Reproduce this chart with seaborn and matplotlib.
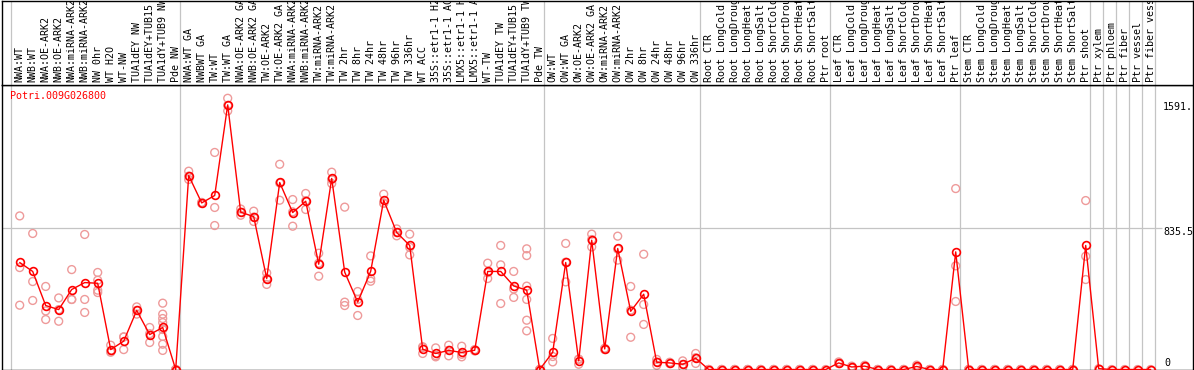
import numpy as np
import pandas as pd
import matplotlib
matplotlib.use("Agg")
import matplotlib.pyplot as plt
import seaborn as sns

# ---------------- data ----------------
categories = [
    "NWA:WT", "NWB:WT", "NWA:OE-ARK2", "NWB:OE-ARK2", "NWA:miRNA-ARK2", "NWB:miRNA-ARK2",
    "NW 0hr", "WT H2O", "WT-NW", "TUA1dEY NW", "TUA1dEY+TUB15 NW", "TUA1dY+TUB9 NW", "Pde NW",
    "NWA:WT GA", "NWBWT GA", "TW:WT", "TW:WT GA", "NWA:OE-ARK2 GA", "NWB:OE-ARK2 GA",
    "TW:OE-ARK2", "TW:OE-ARK2 GA", "NWA:miRNA-ARK2 GA", "NWB:miRNA-ARK2 GA", "TW:miRNA-ARK2",
    "TW:miRNA-ARK2 GA", "TW 2hr", "TW 8hr", "TW 24hr", "TW 48hr", "TW 96hr", "TW 336hr",
    "WT ACC", "35S::etr1-1 H2O", "35S::etr1-1 ACC", "LMX5::etr1-1 H2O", "LMX5::etr1-1 ACC",
    "WT-TW", "TUA1dEY TW", "TUA1dEY+TUB15 TW", "TUA1dY+TUB9 TW", "Pde TW",
    "OW:WT", "OW:WT GA", "OW:OE-ARK2", "OW:OE-ARK2 GA", "OW:miRNA-ARK2", "OW:miRNA-ARK2 GA",
    "OW 2hr", "OW 8hr", "OW 24hr", "OW 48hr", "OW 96hr", "OW 336hr",
    "Root CTR", "Root LongCold", "Root LongDrought", "Root LongHeat", "Root LongSalt",
    "Root ShortCold", "Root ShortDrought", "Root ShortHeat", "Root ShortSalt", "Ptr root",
    "Leaf CTR", "Leaf LongCold", "Leaf LongDrought", "Leaf LongHeat", "Leaf LongSalt",
    "Leaf ShortCold", "Leaf ShortDrought", "Leaf ShortHeat", "Leaf ShortSalt", "Ptr leaf",
    "Stem CTR", "Stem LongCold", "Stem LongDrought", "Stem LongHeat", "Stem LongSalt",
    "Stem ShortCold", "Stem ShortDrought", "Stem ShortHeat", "Stem ShortSalt", "Ptr shoot",
    "Ptr xylem", "Ptr phloem", "Ptr fiber", "Ptr vessel", "Ptr fiber vessel",
]

means = [
    634, 581, 379, 355, 474, 515, 511, 118, 168, 350, 207, 249, 0,
    1149, 987, 1031, 1568, 932, 906, 539, 1108, 930, 997, 624, 1132, 577, 399, 582,
    1003, 812, 735, 120, 95, 113, 101, 114, 581, 581, 495, 470, 0,
    102, 634, 51, 766, 122, 717, 345, 446, 43, 39, 31, 67,
    0, 0, 0, 0, 0, 0, 0, 0, 0, 0,
    39, 15, 20, 0, 0, 0, 18, 0, 0, 697,
    0, 0, 0, 0, 0, 0, 0, 0, 0, 735,
    5, 0, 0, 0, 0,
]

replicates = [
    [910, 604, 381], [806, 521, 409], [492, 347, 296], [424, 286, 355], [592, 415, 415],
    [800, 415, 338], [575, 529, 470, 456], [144, 102, 110], [193, 118, 193], [371, 328, 350],
    [249, 160, 212], [393, 328, 302, 278, 237, 196, 150, 113], [0, 0, 0],
    [1175, 1126, 1146], [987, 990, 984], [1286, 960, 853], [1607, 1532, 1565], [951, 914, 932],
    [938, 877, 903], [572, 504, 540], [1216, 1003, 1105], [1007, 849, 934], [1043, 948, 1000],
    [689, 553, 630], [1169, 1102, 1125], [962, 399, 379], [462, 320, 415], [673, 539, 523],
    [1039, 984, 986], [833, 792, 811], [802, 679, 724], [95, 130, 135], [128, 75, 82],
    [144, 81, 114], [138, 75, 90], [114, 110, 118], [630, 539, 574], [735, 620, 391],
    [581, 427, 477], [715, 675, 494, 415, 292, 229], [0, 0, 0],
    [184, 45, 77], [747, 519, 636], [31, 60, 62], [802, 726, 770], [122, 118, 126],
    [790, 648, 713], [492, 191, 352], [683, 385, 267], [25, 60, 44], [39, 35, 43],
    [51, 12, 30], [95, 36, 70],
    [0, 0, 0], [0, 0, 0], [0, 0, 0], [0, 0, 0], [0, 0, 0],
    [0, 0, 0], [0, 0, 0], [0, 0, 0], [0, 0, 0], [0],
    [45, 35, 37], [15, 10, 20], [20, 15, 25], [0, 0, 0], [0, 0, 0],
    [0, 0, 0], [18, 10, 26], [0, 0, 0], [0, 0, 0], [1072, 614, 403],
    [0, 0, 0], [0, 0, 0], [0, 0, 0], [0, 0, 0], [0, 0, 0],
    [0, 0, 0], [0, 0, 0], [0, 0, 0], [0, 0, 0], [1001, 671, 533],
    [5], [0], [0], [0], [0],
]

group_ends = [-1, 12, 40, 52, 62, 72, 82, 83, 84, 85, 86, 87]
gene = "Potri.009G026800"
y_labels = ["1591.", "835.5", "0"]
y_mid = 835.5

# ---------------- layout ----------------
W, H = 1194, 370
sns.set_theme(style="white")
plt.rcParams["font.family"] = ["DejaVu Sans Mono", "DejaVu Sans"]
FS = 7.2

fig = plt.figure(figsize=(W / 100, H / 100), dpi=100)
fig.patch.set_facecolor("white")

def fx(px):
    return px / W

def fy(py):
    return 1 - py / H

X0, X1 = 2, 1193
Y_TOP, Y_BOT = 85, 369.5
STEP, FIRST = 13.0, 19.7
UPP = 5.925  # value units per pixel

ax = fig.add_axes([fx(X0), fy(Y_BOT), (X1 - X0) / W, (Y_BOT - Y_TOP) / H])
hax = fig.add_axes([fx(X0), fy(Y_TOP), (X1 - X0) / W, (Y_TOP - 0.5) / H])

xlim = ((X0 - FIRST) / STEP, (X1 - FIRST) / STEP)
for a in (ax, hax):
    a.set_xlim(*xlim)
    a.set_xticks([])
    a.set_yticks([])
    a.set_facecolor("white")
    for sp in a.spines.values():
        sp.set_visible(True)
        sp.set_color("black")
        sp.set_linewidth(1.0)
ax.set_ylim(0, (Y_BOT - Y_TOP) * UPP)
hax.set_ylim(0, 1)

grid_col = "#c4c4c4"
for g in group_ends:
    ax.axvline(g + 0.33, color=grid_col, lw=0.9, zorder=1)
    hax.axvline(g + 0.33, color=grid_col, lw=0.9, zorder=1)
ax.hlines(y_mid, xlim[0], (1162 - FIRST) / STEP, color=grid_col, lw=0.9, zorder=1)

# replicate points
pos = np.arange(len(categories))
rep_df = pd.DataFrame(
    [(i, v) for i, reps in enumerate(replicates) for v in reps], columns=["pos", "value"]
)
sns.scatterplot(data=rep_df, x="pos", y="value", ax=ax, marker="o", s=32,
                facecolor="none", edgecolor="#ee9a9a", linewidth=1.0,
                zorder=2, legend=False)

# mean line
mean_df = pd.DataFrame({"pos": pos, "value": means})
sns.lineplot(data=mean_df, x="pos", y="value", ax=ax, color="red", linewidth=1.0,
             marker="o", markersize=5.6, markerfacecolor="none", markeredgecolor="red",
             markeredgewidth=1.2, sort=False, errorbar=None, zorder=3)
ax.set_xlabel("")
ax.set_ylabel("")
ax.set_xlim(*xlim)

# header labels
for i, lab in enumerate(categories):
    hax.text(i, 3 / Y_TOP, lab, rotation=90, ha="center", va="bottom",
             fontsize=FS, color="black", clip_on=True)

# title and value labels
fig.text(fx(10), fy(91), gene, color="red", fontsize=FS, ha="left", va="top")
fig.text(fx(1163), fy(102), y_labels[0], color="black", fontsize=FS, ha="left", va="top")
fig.text(fx(1163), fy(227), y_labels[1], color="black", fontsize=FS, ha="left", va="top")
fig.text(fx(1164), fy(358), y_labels[2], color="black", fontsize=FS, ha="left", va="top")

fig.savefig("out.png", dpi=100, facecolor="white")
